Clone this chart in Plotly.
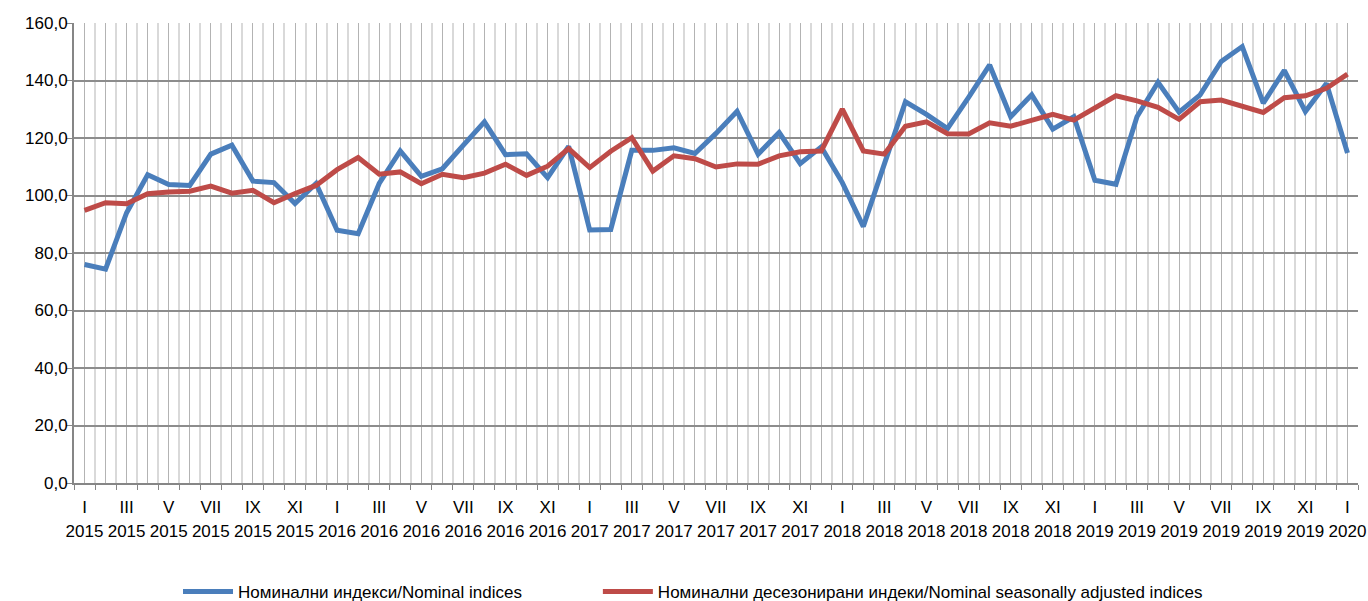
import plotly.graph_objects as go

# ---- data ----
years = [2015] * 12 + [2016] * 12 + [2017] * 12 + [2018] * 12 + [2019] * 12 + [2020]
roman = ["I", "II", "III", "IV", "V", "VI", "VII", "VIII", "IX", "X", "XI", "XII"]
months = [roman[i % 12] for i in range(61)]
categories = [f"{m} {y}" for m, y in zip(months, years)]

nominal = [76.0, 74.4, 94.0, 107.2, 103.8, 103.5, 114.4, 117.5, 105.0, 104.5,
           97.2, 104.2, 87.9, 86.7, 104.2, 115.5, 106.7, 109.3, 117.5, 125.6,
           114.2, 114.5, 106.2, 117.1, 88.0, 88.2, 115.7, 115.7, 116.6, 114.6,
           121.6, 129.3, 114.4, 121.9, 111.1, 116.9, 104.5, 89.2, 111.0, 132.6,
           128.2, 123.3, 134.1, 145.4, 127.4, 135.0, 123.1, 127.4, 105.3, 103.9,
           127.4, 139.4, 129.0, 135.0, 146.6, 151.8, 132.1, 143.5, 129.2, 139.0,
           114.8]

seasonal = [94.8, 97.5, 97.1, 100.6, 101.2, 101.5, 103.3, 100.8, 101.8, 97.5,
            100.7, 103.5, 109.0, 113.2, 107.4, 108.2, 104.1, 107.4, 106.2, 107.8,
            110.9, 107.0, 110.2, 116.3, 109.7, 115.4, 120.1, 108.5, 113.8, 112.8,
            109.9, 111.0, 110.9, 113.8, 115.2, 115.5, 130.0, 115.5, 114.4, 124.1,
            125.6, 121.5, 121.4, 125.3, 124.1, 126.2, 128.2, 126.2, 130.7, 134.7,
            132.9, 130.7, 126.5, 132.6, 133.2, 131.2, 128.9, 134.0, 134.7, 137.3,
            142.2]

name_nominal = "Номинални индекси/Nominal indices"
name_seasonal = "Номинални десезонирани индеки/Nominal seasonally adjusted indices"

# ---- figure ----
xpos = list(range(len(categories)))
month_text = [m if i % 2 == 0 else "" for i, m in enumerate(months)]
year_text = [str(y) if i % 2 == 0 else "" for i, y in enumerate(years)]
xrange_ = [-0.5, len(categories) - 0.5]

FONT = "Liberation Sans, Arial, sans-serif"
FS = 17

fig = go.Figure()
fig.add_trace(go.Scatter(x=xpos, y=nominal, mode="lines", name=name_nominal,
                         line=dict(color="#4A7EBB", width=5), customdata=categories,
                         legend="legend", xaxis="x", yaxis="y",
                         hovertemplate="%{customdata}: %{y}<extra></extra>"))
fig.add_trace(go.Scatter(x=xpos, y=seasonal, mode="lines", name=name_seasonal,
                         line=dict(color="#BE4B48", width=5), customdata=categories,
                         legend="legend2", xaxis="x2", yaxis="y",
                         hovertemplate="%{customdata}: %{y}<extra></extra>"))

legend_common = dict(orientation="h", xanchor="left", y=-0.237, yanchor="middle",
                     font=dict(family=FONT, size=FS, color="#000000"),
                     itemwidth=50, bgcolor="rgba(0,0,0,0)")

fig.update_layout(
    width=1368, height=601,
    margin=dict(l=74, r=10, t=23, b=118, autoexpand=False),
    paper_bgcolor="white", plot_bgcolor="white",
    separators=",.",
    font=dict(family=FONT, size=FS, color="#000000"),
    showlegend=True,
    legend=dict(x=0.081, **legend_common),
    legend2=dict(x=0.408, **legend_common),
    xaxis=dict(
        range=xrange_,
        tickmode="array", tickvals=xpos, ticktext=month_text,
        ticks="", showgrid=True, gridcolor="#b3b3b3", gridwidth=1,
        showline=True, linecolor="#868686", linewidth=2,
        zeroline=False, tickangle=0, automargin=False,
        ticklabeloverflow="allow", ticklabelstandoff=8,
        minor=dict(tick0=0.5, dtick=1, ticks="outside", ticklen=5, tickcolor="#868686",
                   tickwidth=1, showgrid=True, gridcolor="#d9d9d9", gridwidth=2),
        tickfont=dict(family=FONT, size=FS),
    ),
    xaxis2=dict(
        range=xrange_, overlaying="x", anchor="y", side="bottom",
        tickmode="array", tickvals=xpos, ticktext=year_text,
        ticks="", showgrid=False, showline=False, zeroline=False,
        tickangle=0, automargin=False,
        ticklabeloverflow="allow", ticklabelstandoff=36,
        tickfont=dict(family=FONT, size=FS),
    ),
    yaxis=dict(
        range=[0, 160], dtick=20, tickformat=".1f",
        showgrid=True, gridcolor="#8c8c8c", gridwidth=1.5,
        showline=True, linecolor="#868686", linewidth=2,
        ticks="outside", ticklen=6, tickcolor="#868686",
        zeroline=False, automargin=False, ticklabelstandoff=-5,
        tickfont=dict(family=FONT, size=FS),
    ),
)

fig.write_html("out.html", config={"displayModeBar": False},
               post_script="document.body.style.margin='0';")
